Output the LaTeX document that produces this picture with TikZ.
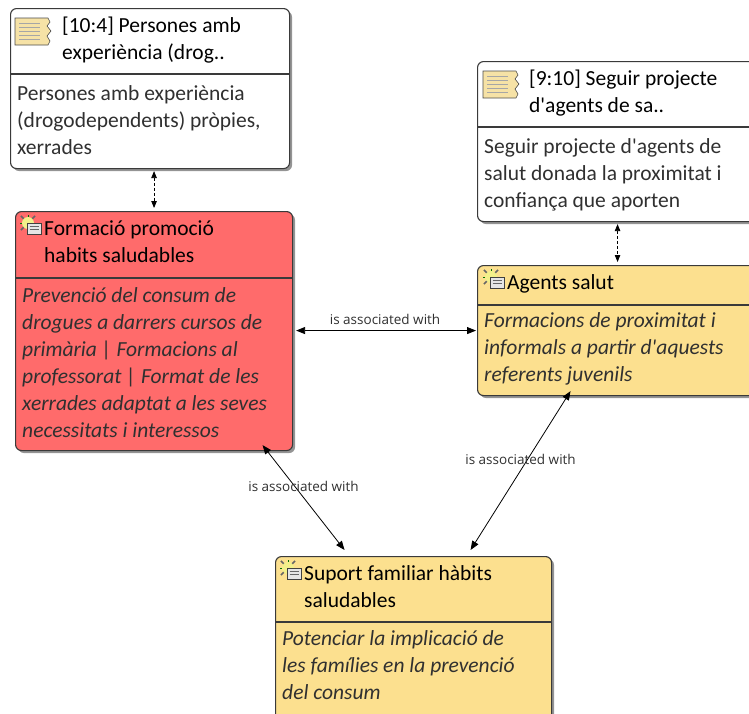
\documentclass[tikz,border=0pt]{standalone}
\usepackage{fontspec}
\setmainfont{Carlito}[Ligatures=TeXOff]
\newfontfamily\labelfont{Open Sans}
\usetikzlibrary{arrows.meta,shadows,calc}

\definecolor{redfill}{HTML}{FF6B6B}
\definecolor{yellowfill}{HTML}{FCE08F}
\definecolor{framegray}{HTML}{3A3A3A}
\definecolor{textgray}{HTML}{303030}
\definecolor{notebeige}{HTML}{F6E2A6}
\definecolor{burstyellow}{HTML}{F2F08A}

\tikzset{
  quoteicon/.pic={
    \draw[fill=notebeige, draw=black!70, line width=0.6pt] (0,0) -- (33,0) -- (35,4) -- (32,8) -- (36,13) -- (32,18) -- (35,23) -- (33,27) -- (0,27) -- cycle;
    \foreach \y in {5,9,13,17,21} \draw[black!35, line width=0.6pt] (4,\y) -- (25,\y);
  },
  codeicon/.pic={
    \foreach \a in {45,135,225,315} \draw[black!60, line width=1.6pt] (10,10) -- ++(\a:10pt);
    \foreach \a in {0,90,180,270} \draw[green!45!black, line width=1pt] (10,10) -- ++(\a:8pt);
    \fill[burstyellow] (10,10) circle (6pt);
    \draw[fill=gray!20, draw=black!75, line width=0.8pt] (9,10) rectangle (23,21);
    \foreach \y in {13.5,16.5} \draw[black!60, line width=0.7pt] (11.5,\y) -- (20.5,\y);
  }
}

\begin{document}
\begin{tikzpicture}[x=1pt, y=-1pt,
  box/.style={rectangle, draw=framegray, line width=1.1pt, rounded corners=6pt, anchor=north west, inner sep=0pt,
    drop shadow={shadow xshift=2.5pt, shadow yshift=-2.5pt, fill=black!60, opacity=.7}},
  sep/.style={draw=framegray, line width=1.1pt},
  title/.style={anchor=base west, align=left, inner sep=0pt, font=\fontsize{21.5}{27.5}\selectfont},
  body/.style={anchor=base west, align=left, inner sep=0pt, text=textgray, font=\fontsize{21.5}{27}\selectfont},
  assoc/.style={<->, >={Triangle[length=9pt,width=7pt]}, line width=0.8pt},
  dep/.style={<->, >={Triangle[length=7pt,width=5.5pt]}, line width=0.8pt, dash pattern=on 3pt off 2pt, shorten <=2pt, shorten >=3pt},
  lbl/.style={font=\labelfont\fontsize{13.5}{15}\selectfont, text=textgray, inner sep=1pt, yshift=11.5pt}
]
\useasboundingbox (0,0) rectangle (749,713);

% quotations
\node[box, fill=white, minimum width=279pt, minimum height=160pt] (q104) at (10,8) {};
\draw[sep] (q104.west |- 0,74) -- (q104.east |- 0,74);
\pic at (15,18) {quoteicon};
\node[title] (q104title) at (62,59.5) {[10:4] Persones amb\\experiència (drog..};
\node[body] (q104body) at (17,154) {Persones amb experiència\\(drogodependents) pròpies,\\xerrades};

\node[box, fill=white, minimum width=280pt, minimum height=160pt] (q910) at (477,61) {};
\draw[sep] (q910.west |- 0,127) -- (q910.east |- 0,127);
\pic at (483,71) {quoteicon};
\node[title] (q910title) at (529,112.5) {[9:10] Seguir projecte\\d'agents de sa..};
\node[body] (q910body) at (484,207) {Seguir projecte d'agents de\\salut donada la proximitat i\\confiança que aporten};

% codes
\node[box, fill=redfill, minimum width=277pt, minimum height=239pt] (form) at (15,211) {};
\draw[sep] (form.west |- 0,278) -- (form.east |- 0,278);
\pic at (18,213) {codeicon};
\node[title] (formtitle) at (44,262.5) {Formació promoció\\habits saludables};
\node[body, font=\fontsize{21.5}{27}\selectfont\itshape] (formbody) at (22,437) {Prevenció del consum de\\drogues a darrers cursos de\\primària | Formacions al\\professorat | Format de les\\xerrades adaptat a les seves\\necessitats i interessos};

\node[box, fill=yellowfill, minimum width=280pt, minimum height=130pt] (agents) at (477,265) {};
\draw[sep] (agents.west |- 0,305) -- (agents.east |- 0,305);
\pic at (481,267) {codeicon};
\node[title] (agentstitle) at (507,289) {Agents salut};
\node[body, font=\fontsize{21.5}{27}\selectfont\itshape] (agentsbody) at (484,381) {Formacions de proximitat i\\informals a partir d'aquests\\referents juvenils};

\node[box, fill=yellowfill, minimum width=276pt, minimum height=170pt] (suport) at (275,556) {};
\draw[sep] (suport.west |- 0,622) -- (suport.east |- 0,622);
\pic at (278,558) {codeicon};
\node[title] (suporttitle) at (304,607.5) {Suport familiar hàbits\\saludables};
\node[body, font=\fontsize{21.5}{27}\selectfont\itshape] (suportbody) at (282,699) {Potenciar la implicació de\\les famílies en la prevenció\\del consum};

% links
\draw[dep] (q104.south -| form.north) -- (form.north);
\draw[dep] (q910.south) -- (agents.north);
\draw[assoc, shorten <=3pt, shorten >=1pt] (form.east |- agents.west) -- node[lbl, midway] (l1) {is associated with} (agents.west);
\draw[assoc] ($(form.south)+(108.5,-6)$) -- node[lbl, midway] (l2) {is associated with} ($(suport.north)+(-69,-6)$);
\draw[assoc] ($(agents.south)+(-47,-5)$) -- node[lbl, midway] (l3) {is associated with} ($(suport.north)+(57,-6)$);
\end{tikzpicture}
\end{document}
